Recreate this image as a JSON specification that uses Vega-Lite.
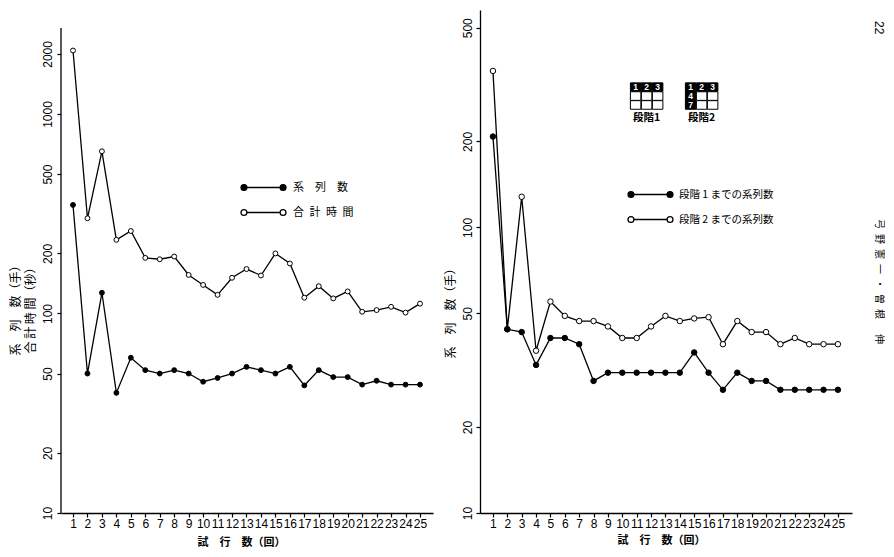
{
  "$schema": "https://vega.github.io/schema/vega-lite/v6.json",
  "background": "white",
  "padding": {"left": 9, "top": 10, "right": 0, "bottom": 0},
  "spacing": 11,
  "resolve": {"scale": {"fill": "independent"}, "legend": {"fill": "independent"}},
  "config": {
    "view": {"stroke": null},
    "font": "Liberation Sans",
    "axis": {
      "grid": false,
      "domainColor": "black",
      "domainWidth": 1.3,
      "tickColor": "black",
      "tickWidth": 1.2,
      "labelColor": "black",
      "titleColor": "black",
      "labelFont": "Liberation Sans",
      "labelFontSize": 12,
      "labelOverlap": false,
      "labelFlush": false
    },
    "legend": {"padding": 0}
  },
  "title": {
    "text": "22",
    "orient": "right",
    "anchor": "start",
    "font": "Liberation Sans",
    "fontSize": 12,
    "fontWeight": "normal",
    "color": "black",
    "offset": -12,
    "dx": 11
  },
  "datasets": {
    "trials_a": [
      {"trial": 1, "series": "系列数", "value": 350},
      {"trial": 2, "series": "系列数", "value": 50},
      {"trial": 3, "series": "系列数", "value": 127},
      {"trial": 4, "series": "系列数", "value": 40},
      {"trial": 5, "series": "系列数", "value": 60},
      {"trial": 6, "series": "系列数", "value": 52},
      {"trial": 7, "series": "系列数", "value": 50},
      {"trial": 8, "series": "系列数", "value": 52},
      {"trial": 9, "series": "系列数", "value": 50},
      {"trial": 10, "series": "系列数", "value": 45.5},
      {"trial": 11, "series": "系列数", "value": 47.5},
      {"trial": 12, "series": "系列数", "value": 50},
      {"trial": 13, "series": "系列数", "value": 54},
      {"trial": 14, "series": "系列数", "value": 52},
      {"trial": 15, "series": "系列数", "value": 50},
      {"trial": 16, "series": "系列数", "value": 54},
      {"trial": 17, "series": "系列数", "value": 43.6},
      {"trial": 18, "series": "系列数", "value": 52},
      {"trial": 19, "series": "系列数", "value": 48},
      {"trial": 20, "series": "系列数", "value": 48},
      {"trial": 21, "series": "系列数", "value": 44},
      {"trial": 22, "series": "系列数", "value": 46},
      {"trial": 23, "series": "系列数", "value": 44},
      {"trial": 24, "series": "系列数", "value": 44},
      {"trial": 25, "series": "系列数", "value": 44},
      {"trial": 1, "series": "合計時間", "value": 2080},
      {"trial": 2, "series": "合計時間", "value": 300},
      {"trial": 3, "series": "合計時間", "value": 650},
      {"trial": 4, "series": "合計時間", "value": 234},
      {"trial": 5, "series": "合計時間", "value": 259},
      {"trial": 6, "series": "合計時間", "value": 190},
      {"trial": 7, "series": "合計時間", "value": 187},
      {"trial": 8, "series": "合計時間", "value": 193},
      {"trial": 9, "series": "合計時間", "value": 156},
      {"trial": 10, "series": "合計時間", "value": 139},
      {"trial": 11, "series": "合計時間", "value": 124},
      {"trial": 12, "series": "合計時間", "value": 151},
      {"trial": 13, "series": "合計時間", "value": 167},
      {"trial": 14, "series": "合計時間", "value": 155},
      {"trial": 15, "series": "合計時間", "value": 200},
      {"trial": 16, "series": "合計時間", "value": 178},
      {"trial": 17, "series": "合計時間", "value": 120},
      {"trial": 18, "series": "合計時間", "value": 137},
      {"trial": 19, "series": "合計時間", "value": 119},
      {"trial": 20, "series": "合計時間", "value": 129},
      {"trial": 21, "series": "合計時間", "value": 102},
      {"trial": 22, "series": "合計時間", "value": 104},
      {"trial": 23, "series": "合計時間", "value": 108},
      {"trial": 24, "series": "合計時間", "value": 101},
      {"trial": 25, "series": "合計時間", "value": 112}
    ],
    "trials_b": [
      {"trial": 1, "series": "段階2までの系列数", "value": 353},
      {"trial": 2, "series": "段階2までの系列数", "value": 44},
      {"trial": 3, "series": "段階2までの系列数", "value": 128},
      {"trial": 4, "series": "段階2までの系列数", "value": 37},
      {"trial": 5, "series": "段階2までの系列数", "value": 55},
      {"trial": 6, "series": "段階2までの系列数", "value": 49},
      {"trial": 7, "series": "段階2までの系列数", "value": 47},
      {"trial": 8, "series": "段階2までの系列数", "value": 47},
      {"trial": 9, "series": "段階2までの系列数", "value": 45},
      {"trial": 10, "series": "段階2までの系列数", "value": 41},
      {"trial": 11, "series": "段階2までの系列数", "value": 41},
      {"trial": 12, "series": "段階2までの系列数", "value": 45},
      {"trial": 13, "series": "段階2までの系列数", "value": 49},
      {"trial": 14, "series": "段階2までの系列数", "value": 47},
      {"trial": 15, "series": "段階2までの系列数", "value": 48},
      {"trial": 16, "series": "段階2までの系列数", "value": 48.5},
      {"trial": 17, "series": "段階2までの系列数", "value": 39},
      {"trial": 18, "series": "段階2までの系列数", "value": 47},
      {"trial": 19, "series": "段階2までの系列数", "value": 43},
      {"trial": 20, "series": "段階2までの系列数", "value": 43},
      {"trial": 21, "series": "段階2までの系列数", "value": 39},
      {"trial": 22, "series": "段階2までの系列数", "value": 41},
      {"trial": 23, "series": "段階2までの系列数", "value": 39},
      {"trial": 24, "series": "段階2までの系列数", "value": 39},
      {"trial": 25, "series": "段階2までの系列数", "value": 39},
      {"trial": 1, "series": "段階1までの系列数", "value": 208},
      {"trial": 2, "series": "段階1までの系列数", "value": 44},
      {"trial": 3, "series": "段階1までの系列数", "value": 43},
      {"trial": 4, "series": "段階1までの系列数", "value": 33},
      {"trial": 5, "series": "段階1までの系列数", "value": 41},
      {"trial": 6, "series": "段階1までの系列数", "value": 41},
      {"trial": 7, "series": "段階1までの系列数", "value": 39},
      {"trial": 8, "series": "段階1までの系列数", "value": 29},
      {"trial": 9, "series": "段階1までの系列数", "value": 31},
      {"trial": 10, "series": "段階1までの系列数", "value": 31},
      {"trial": 11, "series": "段階1までの系列数", "value": 31},
      {"trial": 12, "series": "段階1までの系列数", "value": 31},
      {"trial": 13, "series": "段階1までの系列数", "value": 31},
      {"trial": 14, "series": "段階1までの系列数", "value": 31},
      {"trial": 15, "series": "段階1までの系列数", "value": 36.5},
      {"trial": 16, "series": "段階1までの系列数", "value": 31},
      {"trial": 17, "series": "段階1までの系列数", "value": 27},
      {"trial": 18, "series": "段階1までの系列数", "value": 31},
      {"trial": 19, "series": "段階1までの系列数", "value": 29},
      {"trial": 20, "series": "段階1までの系列数", "value": 29},
      {"trial": 21, "series": "段階1までの系列数", "value": 27},
      {"trial": 22, "series": "段階1までの系列数", "value": 27},
      {"trial": 23, "series": "段階1までの系列数", "value": 27},
      {"trial": 24, "series": "段階1までの系列数", "value": 27},
      {"trial": 25, "series": "段階1までの系列数", "value": 27}
    ],
    "stage_grid": [
      {"stage": "段階1", "num": "1", "row": 0, "col": 0, "marked": true},
      {"stage": "段階1", "num": "2", "row": 0, "col": 1, "marked": true},
      {"stage": "段階1", "num": "3", "row": 0, "col": 2, "marked": true},
      {"stage": "段階1", "num": "4", "row": 1, "col": 0, "marked": false},
      {"stage": "段階1", "num": "5", "row": 1, "col": 1, "marked": false},
      {"stage": "段階1", "num": "6", "row": 1, "col": 2, "marked": false},
      {"stage": "段階1", "num": "7", "row": 2, "col": 0, "marked": false},
      {"stage": "段階1", "num": "8", "row": 2, "col": 1, "marked": false},
      {"stage": "段階1", "num": "9", "row": 2, "col": 2, "marked": false},
      {"stage": "段階2", "num": "1", "row": 0, "col": 5, "marked": true},
      {"stage": "段階2", "num": "2", "row": 0, "col": 6, "marked": true},
      {"stage": "段階2", "num": "3", "row": 0, "col": 7, "marked": true},
      {"stage": "段階2", "num": "4", "row": 1, "col": 5, "marked": true},
      {"stage": "段階2", "num": "5", "row": 1, "col": 6, "marked": false},
      {"stage": "段階2", "num": "6", "row": 1, "col": 7, "marked": false},
      {"stage": "段階2", "num": "7", "row": 2, "col": 5, "marked": true},
      {"stage": "段階2", "num": "8", "row": 2, "col": 6, "marked": false},
      {"stage": "段階2", "num": "9", "row": 2, "col": 7, "marked": false}
    ]
  },
  "hconcat": [
    {
      "width": 372,
      "height": 503,
      "layer": [
        {
          "data": {"values": [{}]},
          "mark": {"type": "rule", "color": "black", "strokeWidth": 1.3},
          "encoding": {
            "x": {"datum": 0.17, "type": "quantitative"},
            "y": {"datum": 10, "type": "quantitative"},
            "y2": {"datum": 2700}
          }
        },
        {
          "data": {"name": "trials_a"},
          "mark": {"type": "line", "color": "black", "strokeWidth": 1.3},
          "encoding": {
            "x": {"field": "trial", "type": "quantitative"},
            "y": {"field": "value", "type": "quantitative"},
            "detail": {"field": "series"}
          }
        },
        {
          "data": {"name": "trials_a"},
          "mark": {"type": "point", "filled": true, "stroke": "black", "strokeWidth": 1, "size": 24, "opacity": 1},
          "encoding": {
            "x": {
              "field": "trial",
              "type": "quantitative",
              "scale": {"domain": [0.17, 25.9], "nice": false, "zero": false},
              "axis": {
                "values": [1, 2, 3, 4, 5, 6, 7, 8, 9, 10, 11, 12, 13, 14, 15, 16, 17, 18, 19, 20, 21, 22, 23, 24, 25],
                "tickCount": 30,
                "format": "d",
                "tickSize": 4,
                "labelPadding": 1,
                "labelAngle": 0,
                "labelOverlap": false,
                "labelSeparation": 0,
                "title": "試　行　数（回）",
                "titleFont": "Noto Sans CJK JP",
                "titleFontSize": 11,
                "titleFontWeight": "bold",
                "titlePadding": 7,
                "titleX": 180
              }
            },
            "y": {
              "field": "value",
              "type": "quantitative",
              "scale": {"type": "log", "domain": [10, 3320], "nice": false},
              "axis": {
                "values": [10, 20, 50, 100, 200, 500, 1000, 2000],
                "tickCount": 20,
                "format": "d",
                "domain": false,
                "labelAngle": 270,
                "labelOverlap": false,
                "tickSize": 4,
                "labelPadding": 3,
                "title": ["系　列　数（手）", "合 計 時 間（秒）"],
                "titleFont": "Noto Sans CJK JP",
                "titleFontSize": 12,
                "titleFontWeight": "normal",
                "titleLineHeight": 15,
                "titlePadding": 4,
                "titleY": 297
              }
            },
            "fill": {
              "field": "series",
              "type": "nominal",
              "scale": {"domain": ["系列数", "合計時間"], "range": ["black", "white"]},
              "legend": {
                "orient": "none",
                "legendX": 186,
                "legendY": 161,
                "title": null,
                "symbolType": "M-1.07,0H1.07M-1.45,0A0.19,0.19,0,1,0,-1.07,0A0.19,0.19,0,1,0,-1.45,0ZM1.07,0A0.19,0.19,0,1,0,1.45,0A0.19,0.19,0,1,0,1.07,0Z",
                "symbolSize": 961,
                "symbolStrokeColor": "black",
                "symbolStrokeWidth": 1.3,
                "symbolOpacity": 1,
                "labelFont": "Noto Sans CJK JP",
                "labelFontSize": 11,
                "labelColor": "black",
                "labelOffset": 13,
                "labelExpr": "datum.label == '系列数' ? '系　列　数' : '合\u2002計\u2002時\u2002間'"
              }
            }
          }
        }
      ]
    },
    {
      "width": 372,
      "height": 503,
      "title": {
        "text": "弓\u2002野\u2002憲\u2002一\u2002・\u2002曽\u2002根\u3000\u2002伸",
        "orient": "right",
        "anchor": "middle",
        "font": "Noto Sans CJK JP",
        "fontSize": 10,
        "fontWeight": "normal",
        "color": "black",
        "offset": 22,
        "dx": 20
      },
      "resolve": {"scale": {"x": "independent", "y": "independent"}},
      "layer": [
        {
          "data": {"name": "trials_b"},
          "layer": [
            {
              "mark": {"type": "line", "color": "black", "strokeWidth": 1.3},
              "encoding": {
                "x": {"field": "trial", "type": "quantitative"},
                "y": {"field": "value", "type": "quantitative"},
                "detail": {"field": "series"}
              }
            },
            {
              "mark": {"type": "point", "filled": true, "stroke": "black", "strokeWidth": 1, "size": 30, "opacity": 1},
              "encoding": {
                "x": {
                  "field": "trial",
                  "type": "quantitative",
                  "scale": {"domain": [0.1, 25.98], "nice": false, "zero": false},
                  "axis": {
                    "values": [1, 2, 3, 4, 5, 6, 7, 8, 9, 10, 11, 12, 13, 14, 15, 16, 17, 18, 19, 20, 21, 22, 23, 24, 25],
                    "tickCount": 30,
                    "format": "d",
                    "tickSize": 4,
                    "labelPadding": 1,
                    "labelAngle": 0,
                    "labelOverlap": false,
                    "labelSeparation": 0,
                    "title": "試　行　数（回）",
                    "titleFont": "Noto Sans CJK JP",
                    "titleFontSize": 11,
                    "titleFontWeight": "bold",
                    "titlePadding": 5,
                    "titleX": 181
                  }
                },
                "y": {
                  "field": "value",
                  "type": "quantitative",
                  "scale": {"type": "log", "domain": [10, 577], "nice": false},
                  "axis": {
                    "values": [10, 20, 50, 100, 200, 500],
                    "tickCount": 20,
                    "format": "d",
                    "labelAngle": 270,
                    "labelOverlap": false,
                    "tickSize": 4,
                    "labelPadding": 2,
                    "title": "系　列　数（手）",
                    "titleFont": "Noto Sans CJK JP",
                    "titleFontSize": 12,
                    "titleFontWeight": "normal",
                    "titlePadding": 4,
                    "titleY": 300
                  }
                },
                "fill": {
                  "field": "series",
                  "type": "nominal",
                  "scale": {"domain": ["段階1までの系列数", "段階2までの系列数"], "range": ["black", "white"]},
                  "legend": {
                    "orient": "none",
                    "legendX": 154,
                    "legendY": 168,
                    "title": null,
                    "symbolType": "M-1.07,0H1.07M-1.45,0A0.19,0.19,0,1,0,-1.07,0A0.19,0.19,0,1,0,-1.45,0ZM1.07,0A0.19,0.19,0,1,0,1.45,0A0.19,0.19,0,1,0,1.07,0Z",
                    "symbolSize": 961,
                    "symbolStrokeColor": "black",
                    "symbolStrokeWidth": 1.3,
                    "symbolOpacity": 1,
                    "labelFont": "Noto Sans CJK JP",
                    "labelFontSize": 10.5,
                    "labelColor": "black",
                    "labelOffset": 12,
                    "labelExpr": "datum.label == '段階1までの系列数' ? '段階 1 までの系列数' : '段階 2 までの系列数'"
                  }
                }
              }
            }
          ]
        },
        {
          "data": {"name": "stage_grid"},
          "encoding": {
            "x": {"field": "col", "type": "quantitative", "scale": {"domain": [-14.15, 19.67], "nice": false, "zero": false}, "axis": null},
            "y": {"field": "row", "type": "quantitative", "scale": {"domain": [-8.67, 47.85], "reverse": true, "nice": false, "zero": false}, "axis": null}
          },
          "layer": [
            {
              "transform": [{"filter": "datum.marked"}],
              "mark": {"type": "point", "shape": "M-1,-0.82H1V0.82H-1Z", "filled": true, "fill": "black", "stroke": "black", "strokeWidth": 1, "size": 110, "opacity": 1}
            },
            {
              "transform": [{"filter": "!datum.marked"}],
              "mark": {"type": "point", "shape": "M-1,-0.82H1V0.82H-1Z", "filled": true, "fill": "white", "stroke": "black", "strokeWidth": 1, "size": 110, "opacity": 1}
            },
            {
              "transform": [{"filter": "datum.marked"}],
              "mark": {"type": "text", "color": "white", "font": "Liberation Sans", "fontSize": 8.5, "fontWeight": "bold", "baseline": "middle", "align": "center"},
              "encoding": {"text": {"field": "num"}}
            },
            {
              "transform": [{"filter": "datum.row == 2 && (datum.col == 1 || datum.col == 6)"}],
              "mark": {"type": "text", "color": "black", "font": "Noto Sans CJK JP", "fontSize": 10.5, "fontWeight": "bold", "baseline": "middle", "align": "center", "dy": 13},
              "encoding": {"text": {"field": "stage"}}
            }
          ]
        }
      ]
    }
  ]
}
